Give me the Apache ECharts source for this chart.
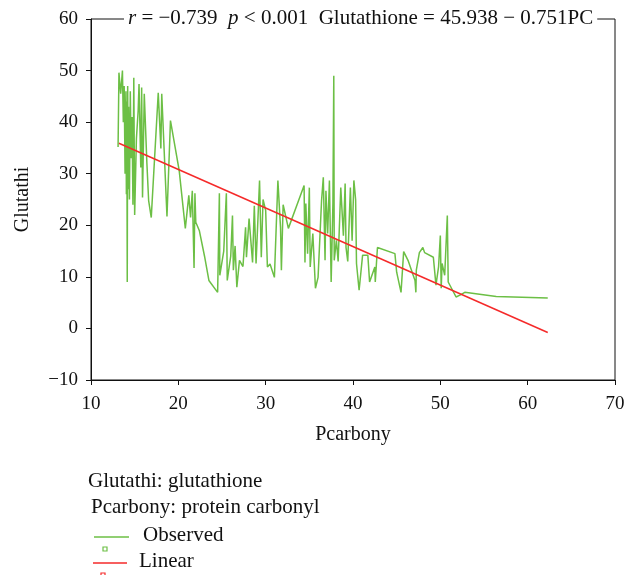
<!DOCTYPE html>
<html>
<head>
<meta charset="utf-8">
<script src="https://cdn.jsdelivr.net/npm/echarts@6/dist/echarts.min.js"></script>
<style>
  html, body { margin: 0; padding: 0; background: #fff; }
  #chart { width: 639px; height: 575px; }
</style>
</head>
<body>
<div id="chart"></div>
<script>
// observed values, sorted by protein carbonyl
var pcarbony = [13.1, 13.2, 13.4, 13.6, 13.7, 13.8, 13.9, 14.0, 14.05, 14.1, 14.15, 14.2, 14.25, 14.3, 14.4, 14.5,
  14.6, 14.7, 14.8, 14.9, 15.0, 15.2, 15.4, 15.5, 15.7, 15.8, 15.9, 16.1, 16.4, 16.6, 16.9, 17.7, 18.0, 18.1,
  18.7, 19.1, 20.1, 20.8, 21.2, 21.4, 21.6, 21.8, 21.9, 22.0, 22.4, 23.0, 23.5, 24.5, 24.7, 24.75, 25.2, 25.5,
  25.6, 26.0, 26.2, 26.3, 26.5, 26.7, 27.0, 27.4, 27.7, 27.8, 28.1, 28.5, 28.7, 28.9, 29.3, 29.5, 29.7, 30.0,
  30.2, 30.5, 31.0, 31.4, 31.7, 31.8, 32.0, 32.6, 34.4, 34.5, 34.6, 34.8, 35.0, 35.1, 35.4, 35.7, 36.0, 36.4,
  36.6, 36.8, 36.9, 37.1, 37.3, 37.5, 37.7, 37.8, 37.85, 38.1, 38.3, 38.6, 38.9, 39.1, 39.2, 39.4, 39.7, 39.9,
  40.1, 40.3, 40.4, 40.7, 41.1, 41.7, 41.9, 42.5, 42.55, 42.75, 42.8, 44.8, 45.0, 45.5, 45.8, 46.3, 47.1, 47.2,
  47.25, 47.6, 48.0, 48.2, 49.2, 49.5, 49.8, 50.0, 50.1, 50.2, 50.5, 50.8, 50.9, 51.1, 51.4, 51.8, 52.3, 52.8,
  56.4, 62.3];
var glutathione = [35.2, 49.6, 45.5, 50.0, 40, 47, 30, 46, 26, 44, 9.0, 47, 27, 43, 25, 46,
  33, 41, 24, 48.6, 22, 36.8, 42.2, 47.4, 31.2, 46.7, 25.4, 45.5, 32, 24.8, 21.5, 45.7, 34.9, 45.5,
  21.7, 40.3, 30.6, 19.4, 25.8, 21.5, 26.7, 11.7, 26.2, 20.6, 19.0, 14, 9.3, 7.0, 26.2, 10.3, 15, 26.2,
  9.3, 14, 21.9, 11.3, 16, 8.0, 13.2, 12, 19.6, 13.8, 21.3, 12.8, 23.8, 12.6, 28.7, 13.8, 25, 22.9,
  11.9, 12.5, 9.9, 28.7, 19.6, 11.3, 24, 19.4, 27.7, 12.8, 24.2, 14.5, 27.3, 11.9, 18.4, 7.8, 9.9, 24.8,
  29.3, 13.2, 26.7, 18.4, 28.7, 9.0, 24.2, 49.0, 13.2, 17.1, 13, 27.3, 18, 28.1, 15.7, 13, 27.3, 17,
  28.7, 25, 12.6, 7.4, 14.2, 14.2, 9.0, 11.9, 9.0, 9.0, 15.7, 14.5, 10.9, 7.0, 14.9, 13.2, 9.3, 7.0,
  11.3, 14.7, 15.7, 14.7, 13.8, 8.4, 12, 18.0, 7.8, 12.6, 10.3, 21.9, 9.0, 9.0, 7.4, 6.1, 6.5, 7.0,
  6.2, 5.9];
// fitted line end points
var linearX = [13.2, 62.3];
var linearY = [35.9, -0.8];

var xTicks = [10, 20, 30, 40, 50, 60, 70];
var yTicks = [-10, 0, 10, 20, 30, 40, 50, 60];

var serif = '"Liberation Serif", "DejaVu Serif", serif';
var green = '#6cbf45';
var red = '#f52a2a';

var observed = pcarbony.map(function (x, i) { return [x, glutathione[i]]; });
var linear = linearX.map(function (x, i) { return [x, linearY[i]]; });

var myChart = echarts.init(document.getElementById('chart'));
var option = {
  animation: false,
  backgroundColor: '#fff',
  grid: {
    left: 91, right: 24, top: 19, bottom: 195,
    show: true, borderColor: '#111', borderWidth: 1, backgroundColor: 'transparent'
  },
  title: {
    text: '{i|r} = −0.739  {i|p} < 0.001  Glutathione = 45.938 − 0.751PC',
    left: 124, top: 8,
    backgroundColor: '#fff',
    padding: [0, 4],
    textStyle: {
      fontFamily: serif, fontSize: 21, fontWeight: 'normal', color: '#111',
      rich: {
        i: { fontFamily: serif, fontSize: 21, fontStyle: 'italic', color: '#111' }
      }
    }
  },
  xAxis: {
    type: 'value',
    min: xTicks[0], max: xTicks[xTicks.length - 1], interval: 10,
    name: 'Pcarbony', nameLocation: 'middle', nameGap: 45,
    nameTextStyle: { fontFamily: serif, fontSize: 20, color: '#111' },
    splitLine: { show: false },
    axisLine: { onZero: false, lineStyle: { color: '#111', width: 1 } },
    axisTick: { inside: false, length: 5, lineStyle: { color: '#111' } },
    axisLabel: { fontFamily: serif, fontSize: 19, color: '#111', margin: 15 }
  },
  yAxis: {
    type: 'value',
    min: yTicks[0], max: yTicks[yTicks.length - 1], interval: 10,
    name: 'Glutathi', nameLocation: 'middle', nameGap: 58,
    nameTextStyle: { fontFamily: serif, fontSize: 20, color: '#111' },
    splitLine: { show: false },
    axisLine: { onZero: false, lineStyle: { color: '#111', width: 1 } },
    axisTick: { inside: false, length: 5, lineStyle: { color: '#111' } },
    axisLabel: {
      fontFamily: serif, fontSize: 19, color: '#111', margin: 13,
      formatter: function (v) { return String(v).replace('-', '−'); }
    }
  },
  series: [
    {
      name: 'Observed', type: 'line', data: observed,
      showSymbol: false, z: 2,
      lineStyle: { color: green, width: 1.5 }
    },
    {
      name: 'Linear', type: 'line', data: linear,
      showSymbol: false, z: 3,
      lineStyle: { color: red, width: 1.5 }
    }
  ],
  graphic: [
    { type: 'text', left: 88, top: 471, style: { text: 'Glutathi: glutathione', font: '21px ' + serif, fill: '#111' } },
    { type: 'text', left: 91, top: 497, style: { text: 'Pcarbony: protein carbonyl', font: '21px ' + serif, fill: '#111' } },
    { type: 'line', shape: { x1: 94, y1: 537, x2: 129, y2: 537 }, style: { stroke: green, lineWidth: 1.4 } },
    { type: 'rect', shape: { x: 103, y: 547, width: 4, height: 4 }, style: { fill: '#fff', stroke: green, lineWidth: 1.2 } },
    { type: 'text', left: 143, top: 525, style: { text: 'Observed', font: '21px ' + serif, fill: '#111' } },
    { type: 'line', shape: { x1: 93, y1: 563, x2: 127, y2: 563 }, style: { stroke: red, lineWidth: 1.4 } },
    { type: 'rect', shape: { x: 101, y: 573, width: 4, height: 4 }, style: { fill: '#fff', stroke: red, lineWidth: 1.2 } },
    { type: 'text', left: 139, top: 551, style: { text: 'Linear', font: '21px ' + serif, fill: '#111' } }
  ]
};
myChart.setOption(option);
</script>
</body>
</html>
